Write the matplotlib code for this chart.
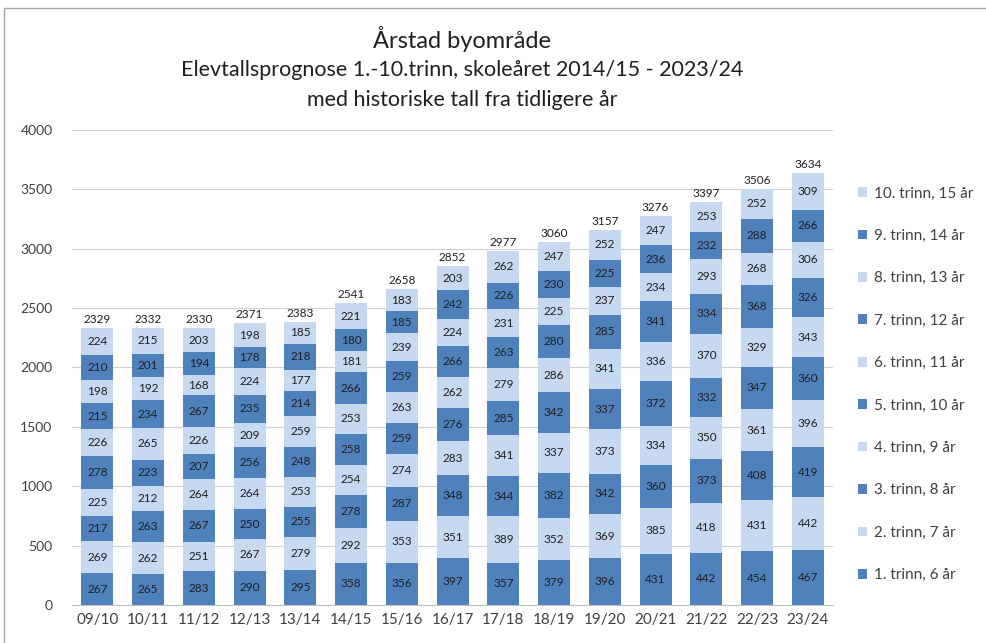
import matplotlib.pyplot as plt
from matplotlib.patches import Rectangle
import numpy as np

plt.rcParams['font.family'] = ['Lato', 'DejaVu Sans']

years = ['09/10', '10/11', '11/12', '12/13', '13/14', '14/15', '15/16', '16/17',
         '17/18', '18/19', '19/20', '20/21', '21/22', '22/23', '23/24']

grade_names = ['1. trinn, 6 år', '2. trinn, 7 år', '3. trinn, 8 år', '4. trinn, 9 år',
               '5. trinn, 10 år', '6. trinn, 11 år', '7. trinn, 12 år', '8. trinn, 13 år',
               '9. trinn, 14 år', '10. trinn, 15 år']

trinn1 = [267, 265, 283, 290, 295, 358, 356, 397, 357, 379, 396, 431, 442, 454, 467]
trinn2 = [269, 262, 251, 267, 279, 292, 353, 351, 389, 352, 369, 385, 418, 431, 442]
trinn3 = [217, 263, 267, 250, 255, 278, 287, 348, 344, 382, 342, 360, 373, 408, 419]
trinn4 = [225, 212, 264, 264, 253, 254, 274, 283, 341, 337, 373, 334, 350, 361, 396]
trinn5 = [278, 223, 207, 256, 248, 258, 259, 276, 285, 342, 337, 372, 332, 347, 360]
trinn6 = [226, 265, 226, 209, 259, 253, 263, 262, 279, 286, 341, 336, 370, 329, 343]
trinn7 = [215, 234, 267, 235, 214, 266, 259, 266, 263, 280, 285, 341, 334, 368, 326]
trinn8 = [198, 192, 168, 224, 177, 181, 239, 224, 231, 225, 237, 234, 293, 268, 306]
trinn9 = [210, 201, 194, 178, 218, 180, 185, 242, 226, 230, 225, 236, 232, 288, 266]
trinn10 = [224, 215, 203, 198, 185, 221, 183, 203, 262, 247, 252, 247, 253, 252, 309]

grades = [trinn1, trinn2, trinn3, trinn4, trinn5, trinn6, trinn7, trinn8, trinn9, trinn10]

dark = '#4F81BD'
light = '#C6D9F1'
txt = '#404040'

fig = plt.figure(figsize=(9.86, 6.43), dpi=100)
ax = fig.add_axes([0.073, 0.059, 0.772, 0.739])

x = np.arange(len(years))
bottom = np.zeros(len(years))
handles = []
for i, vals in enumerate(grades):
    col = dark if i % 2 == 0 else light
    bars = ax.bar(x, vals, 0.63, bottom=bottom, color=col, label=grade_names[i], zorder=2)
    handles.append(bars)
    for xi, b, v in zip(x, bottom, vals):
        ax.text(xi, b + v / 2, str(v), ha='center', va='center', fontsize=8.5,
                color='#1F1F1F', zorder=3)
    bottom += np.array(vals)

# totals on top of each stack
for xi, tot in zip(x, bottom):
    ax.text(xi, tot + 25, str(int(tot)), ha='center', va='bottom', fontsize=8.5, color='#1F1F1F')

ax.set_ylim(0, 4000)
ax.set_xlim(-0.5, len(years) - 0.5)
ax.set_yticks(range(0, 4001, 500))
ax.set_xticks(x)
ax.set_xticklabels(years, fontsize=11, color=txt)
ax.tick_params(axis='y', labelsize=10, colors=txt, length=0, pad=14)
ax.tick_params(axis='x', length=0, pad=6)
ax.grid(axis='y', color='#D0D0D0', linewidth=0.8, zorder=0)
for side in ['top', 'right', 'left']:
    ax.spines[side].set_visible(False)
ax.spines['bottom'].set_color('#BFBFBF')

leg = fig.legend(handles[::-1], grade_names[::-1], loc='upper left',
                 bbox_to_anchor=(0.870, 0.71), frameon=False, fontsize=11,
                 labelspacing=1.86, handlelength=0.6, handleheight=0.6,
                 handletextpad=0.45, labelcolor=txt, borderaxespad=0, borderpad=0)

fig.text(0.469, 0.94, 'Årstad byområde', ha='center', va='center', fontsize=17, color='#1F1F1F')
fig.text(0.469, 0.891, 'Elevtallsprognose 1.-10.trinn, skoleåret 2014/15 - 2023/24',
         ha='center', va='center', fontsize=15.5, color='#1F1F1F')
fig.text(0.469, 0.845, 'med historiske tall fra tidligere år',
         ha='center', va='center', fontsize=15.5, color='#1F1F1F')

fig.patches.append(Rectangle((0.004, -0.01), 1.1, 0.997, transform=fig.transFigure,
                             fill=False, edgecolor='#A6A6A6', linewidth=1))

fig.savefig('out.png', dpi=100)
